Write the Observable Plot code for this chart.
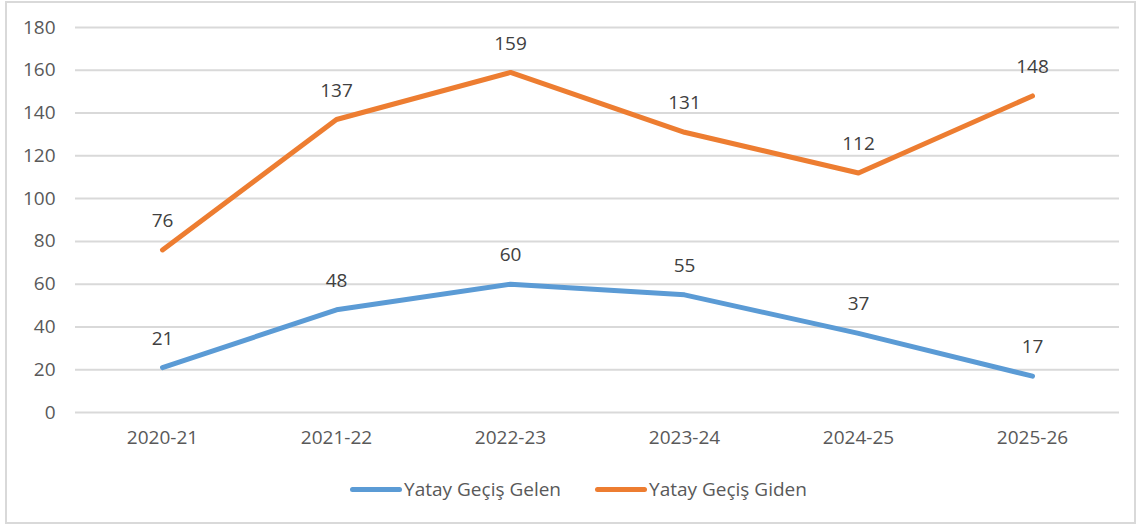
<!DOCTYPE html>
<html>
<head>
<meta charset="utf-8">
<script src="https://cdn.jsdelivr.net/npm/d3@7"></script>
<script src="https://cdn.jsdelivr.net/npm/@observablehq/plot@0.6"></script>
<style>
  html, body { margin: 0; padding: 0; background: #fff; }
  body { width: 1137px; height: 527px; position: relative; overflow: hidden; font-family: "Open Sans", sans-serif; }
  #frame { position: absolute; left: 5px; top: 1px; width: 1127px; height: 519px; border: 2px solid #d9d9d9; }
  #chart { position: absolute; left: 0; top: 0; }
  #legend { position: absolute; left: 20px; top: 476px; width: 1117px; display: flex; justify-content: center; align-items: center; font-size: 19px; color: #595959; }
  .item { display: flex; align-items: center; margin: 0 17px; }
  .swatch { width: 52px; height: 5px; border-radius: 3px; margin-right: 2px; }
</style>
</head>
<body>
<div id="frame"></div>
<div id="chart"></div>
<div id="legend"></div>
<script>
const categories = ["2020-21", "2021-22", "2022-23", "2023-24", "2024-25", "2025-26"];
const gelen = [21, 48, 60, 55, 37, 17];
const giden = [76, 137, 159, 131, 112, 148];
const seriesNames = ["Yatay Geçiş Gelen", "Yatay Geçiş Giden"];
const seriesColors = ["#5B9BD5", "#ED7D31"];
const yTicks = [0, 20, 40, 60, 80, 100, 120, 140, 160, 180];

const data = [];
categories.forEach((c, i) => {
  data.push({cat: c, value: gelen[i], series: seriesNames[0]});
  data.push({cat: c, value: giden[i], series: seriesNames[1]});
});

const chart = Plot.plot({
  width: 1137,
  height: 450,
  marginLeft: 75,
  marginRight: 18,
  marginTop: 27,
  marginBottom: 38,
  style: {fontFamily: "'Open Sans', sans-serif", fontSize: "19px", color: "#595959", background: "transparent"},
  x: {type: "point", domain: categories, padding: 0.5, label: null},
  y: {domain: [0, 180], ticks: yTicks, label: null},
  color: {domain: seriesNames, range: seriesColors},
  marks: [
    Plot.gridY(yTicks, {stroke: "#d9d9d9", strokeOpacity: 1, strokeWidth: 2}),
    Plot.axisY(yTicks, {tickSize: 0, tickPadding: 20, fontSize: 19, fill: "#595959", label: null}),
    Plot.axisX({tickSize: 0, tickPadding: 18, fontSize: 19, fill: "#595959", label: null}),
    Plot.line(data, {x: "cat", y: "value", z: "series", stroke: "series", strokeWidth: 5, strokeLinecap: "round", strokeLinejoin: "round"}),
    Plot.text(data, {x: "cat", y: "value", text: d => String(d.value), dy: -29, fill: "#404040", fontSize: 19})
  ]
});
document.getElementById("chart").appendChild(chart);

const legend = document.getElementById("legend");
seriesNames.forEach((name, i) => {
  const item = document.createElement("div");
  item.className = "item";
  const sw = document.createElement("div");
  sw.className = "swatch";
  sw.style.background = seriesColors[i];
  const label = document.createElement("span");
  label.textContent = name;
  item.appendChild(sw);
  item.appendChild(label);
  legend.appendChild(item);
});
</script>
</body>
</html>
